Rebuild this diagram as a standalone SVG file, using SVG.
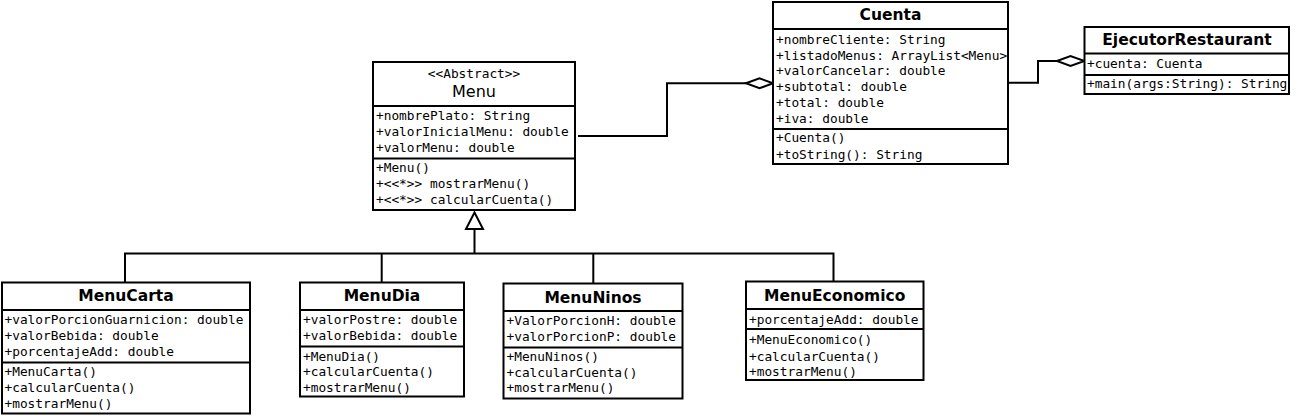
<svg xmlns="http://www.w3.org/2000/svg" width="1305" height="416" viewBox="0 0 1305 416">
<style>
.box{fill:#fff;stroke:#000;stroke-width:2}
.div{stroke:#000;stroke-width:2}
.t{font-family:"DejaVu Sans Mono","Liberation Mono",monospace;font-size:12.8px;fill:#000}
.st{font-family:"DejaVu Sans Mono","Liberation Mono",monospace;font-size:12.8px;fill:#000;text-anchor:middle}
.h{font-family:"DejaVu Sans","Liberation Sans",sans-serif;font-size:15.5px;font-weight:bold;fill:#000;text-anchor:middle}
.hn{font-family:"DejaVu Sans","Liberation Sans",sans-serif;font-size:16px;fill:#000;text-anchor:middle}
.c{fill:none;stroke:#000;stroke-width:2}
.dia{fill:#fff;stroke:#000;stroke-width:2}
</style>
<rect width="1305" height="416" fill="#fff"/>
<g id="connectors">
<path class="c" d="M578 136 H667 V83.3 H746"/>
<polygon class="dia" points="746,83.3 759.5,78.3 773,83.3 759.5,88.3"/>
<path class="c" d="M1008 82.7 H1038 V61 H1057"/>
<polygon class="dia" points="1057,61 1070.5,56 1084.5,61 1070.5,66"/>
<polygon class="dia" points="474.5,212.5 466,229 483,229"/>
<path class="c" d="M474.5 229 V253.5 M125 282.5 V253.5 H833.5 V281.5 M381.7 253.5 V282.5 M593.3 253.5 V283.5"/>
</g>
<g id="Menu">
<rect class="box" x="373" y="62" width="202" height="148"/>
<line class="div" x1="373" y1="106" x2="575" y2="106"/>
<line class="div" x1="373" y1="158.5" x2="575" y2="158.5"/>
<text class="st" x="474" y="78">&lt;&lt;Abstract&gt;&gt;</text>
<text class="hn" x="474" y="97">Menu</text>
<text class="t" x="376" y="119.5">+nombrePlato: String</text>
<text class="t" x="376" y="135.5">+valorInicialMenu: double</text>
<text class="t" x="376" y="151.5">+valorMenu: double</text>
<text class="t" x="376" y="171.5">+Menu()</text>
<text class="t" x="376" y="187.5">+&lt;&lt;*&gt;&gt; mostrarMenu()</text>
<text class="t" x="376" y="203.5">+&lt;&lt;*&gt;&gt; calcularCuenta()</text>
</g>
<g id="Cuenta">
<rect class="box" x="773" y="2" width="235" height="162"/>
<line class="div" x1="773" y1="29" x2="1008" y2="29"/>
<line class="div" x1="773" y1="129" x2="1008" y2="129"/>
<text class="h" x="890.5" y="20">Cuenta</text>
<text class="t" x="776" y="43.5">+nombreCliente: String</text>
<text class="t" x="776" y="59.5">+listadoMenus: ArrayList&lt;Menu&gt;</text>
<text class="t" x="776" y="75.3">+valorCancelar: double</text>
<text class="t" x="776" y="91.2">+subtotal: double</text>
<text class="t" x="776" y="107">+total: double</text>
<text class="t" x="776" y="123">+iva: double</text>
<text class="t" x="776" y="142">+Cuenta()</text>
<text class="t" x="776" y="158.5">+toString(): String</text>
</g>
<g id="EjecutorRestaurant">
<rect class="box" x="1084.5" y="27" width="204.5" height="67"/>
<line class="div" x1="1084.5" y1="53.5" x2="1289" y2="53.5"/>
<line class="div" x1="1084.5" y1="75" x2="1289" y2="75"/>
<text class="h" x="1187" y="45">EjecutorRestaurant</text>
<text class="t" x="1087" y="68">+cuenta: Cuenta</text>
<text class="t" x="1087" y="88">+main(args:String): String</text>
</g>
<g id="MenuCarta">
<rect class="box" x="2" y="282.5" width="248" height="131"/>
<line class="div" x1="2" y1="310" x2="250" y2="310"/>
<line class="div" x1="2" y1="362.5" x2="250" y2="362.5"/>
<text class="h" x="126" y="301">MenuCarta</text>
<text class="t" x="4.5" y="324">+valorPorcionGuarnicion: double</text>
<text class="t" x="4.5" y="340">+valorBebida: double</text>
<text class="t" x="4.5" y="355.7">+porcentajeAdd: double</text>
<text class="t" x="4.5" y="375.5">+MenuCarta()</text>
<text class="t" x="4.5" y="391.5">+calcularCuenta()</text>
<text class="t" x="4.5" y="407.8">+mostrarMenu()</text>
</g>
<g id="MenuDia">
<rect class="box" x="300" y="282.5" width="164" height="114"/>
<line class="div" x1="300" y1="310" x2="464" y2="310"/>
<line class="div" x1="300" y1="346.5" x2="464" y2="346.5"/>
<text class="h" x="382" y="301">MenuDia</text>
<text class="t" x="303" y="324">+valorPostre: double</text>
<text class="t" x="303" y="340">+valorBebida: double</text>
<text class="t" x="303" y="360.5">+MenuDia()</text>
<text class="t" x="303" y="376.3">+calcularCuenta()</text>
<text class="t" x="303" y="391.5">+mostrarMenu()</text>
</g>
<g id="MenuNinos">
<rect class="box" x="503.5" y="283.5" width="179" height="115"/>
<line class="div" x1="503.5" y1="311" x2="682.5" y2="311"/>
<line class="div" x1="503.5" y1="347.5" x2="682.5" y2="347.5"/>
<text class="h" x="593" y="302.5">MenuNinos</text>
<text class="t" x="506.5" y="325.3">+ValorPorcionH: double</text>
<text class="t" x="506.5" y="341.2">+valorPorcionP: double</text>
<text class="t" x="506.5" y="361.2">+MenuNinos()</text>
<text class="t" x="506.5" y="377.2">+calcularCuenta()</text>
<text class="t" x="506.5" y="392">+mostrarMenu()</text>
</g>
<g id="MenuEconomico">
<rect class="box" x="746" y="281.5" width="177.5" height="98.5"/>
<line class="div" x1="746" y1="309" x2="923.5" y2="309"/>
<line class="div" x1="746" y1="329" x2="923.5" y2="329"/>
<text class="h" x="834.7" y="300.5">MenuEconomico</text>
<text class="t" x="749" y="324">+porcentajeAdd: double</text>
<text class="t" x="749" y="344">+MenuEconomico()</text>
<text class="t" x="749" y="360.5">+calcularCuenta()</text>
<text class="t" x="749" y="376.2">+mostrarMenu()</text>
</g>
</svg>
